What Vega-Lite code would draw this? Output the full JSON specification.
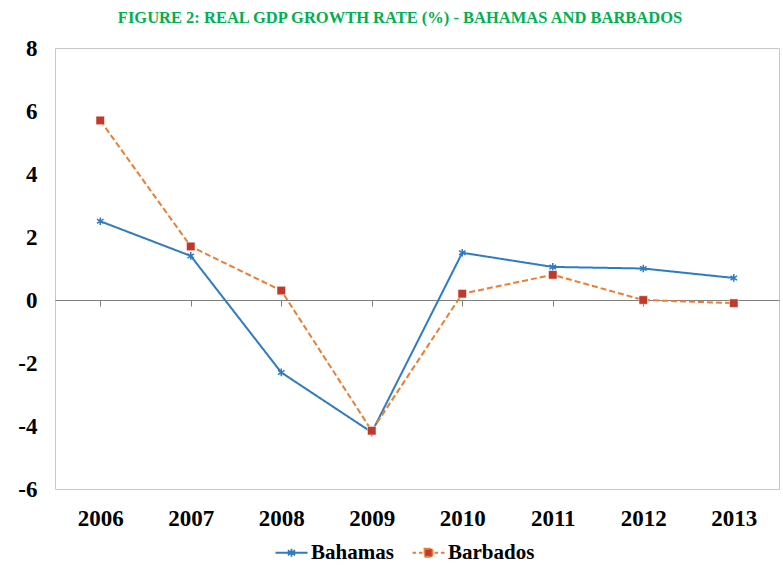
{
  "$schema": "https://vega.github.io/schema/vega-lite/v6.json",
  "width": 724,
  "height": 441,
  "autosize": "none",
  "padding": {"left": 55, "top": 48, "right": 4, "bottom": 86},
  "background": "white",
  "config": {
    "view": {"stroke": "#c8c8c8", "strokeWidth": 1},
    "font": "Liberation Serif"
  },
  "title": {
    "text": "FIGURE 2:  REAL GDP GROWTH RATE (%) - BAHAMAS AND BARBADOS",
    "color": "#00B050",
    "font": "Liberation Serif",
    "fontSize": 16.5,
    "fontWeight": "bold",
    "anchor": "middle",
    "dx": -17,
    "offset": 11
  },
  "data": {
    "values": [
      {"year": "2006", "series": "Bahamas", "value": 2.5},
      {"year": "2007", "series": "Bahamas", "value": 1.4},
      {"year": "2008", "series": "Bahamas", "value": -2.3},
      {"year": "2009", "series": "Bahamas", "value": -4.2},
      {"year": "2010", "series": "Bahamas", "value": 1.5},
      {"year": "2011", "series": "Bahamas", "value": 1.05},
      {"year": "2012", "series": "Bahamas", "value": 1.0},
      {"year": "2013", "series": "Bahamas", "value": 0.7},
      {"year": "2006", "series": "Barbados", "value": 5.7},
      {"year": "2007", "series": "Barbados", "value": 1.7},
      {"year": "2008", "series": "Barbados", "value": 0.3},
      {"year": "2009", "series": "Barbados", "value": -4.15},
      {"year": "2010", "series": "Barbados", "value": 0.2},
      {"year": "2011", "series": "Barbados", "value": 0.8},
      {"year": "2012", "series": "Barbados", "value": 0.0},
      {"year": "2013", "series": "Barbados", "value": -0.1}
    ]
  },
  "resolve": {"axis": {"x": "independent"}},
  "layer": [
    {
      "mark": {"type": "point", "opacity": 0},
      "encoding": {
        "x": {
          "field": "year", "type": "nominal",
          "axis": {
            "orient": "bottom", "offset": -189, "bandPosition": 1,
            "labels": false, "ticks": true, "tickSize": 6, "tickColor": "#7f7f7f",
            "domain": true, "domainColor": "#7f7f7f", "title": null, "grid": false
          }
        },
        "y": {"field": "value", "type": "quantitative"}
      }
    },
    {
      "mark": {"type": "line", "strokeWidth": 2},
      "encoding": {
        "x": {
          "field": "year", "type": "nominal",
          "scale": {"paddingInner": 0, "paddingOuter": 0.5},
          "axis": {
            "orient": "bottom", "labelAngle": 0, "labelFontSize": 23, "labelFontWeight": "bold",
            "labelColor": "#000", "labelPadding": 18, "labelFont": "Liberation Serif",
            "ticks": false, "domain": false, "title": null, "grid": false
          }
        },
        "y": {
          "field": "value", "type": "quantitative",
          "scale": {"domain": [-6, 8], "nice": false, "zero": false},
          "axis": {
            "values": [-6, -4, -2, 0, 2, 4, 6, 8],
            "labelExpr": "'' + datum.value",
            "labelFontSize": 23, "labelFontWeight": "bold", "labelColor": "#000",
            "labelFont": "Liberation Serif", "labelPadding": 18,
            "ticks": false, "domain": false, "grid": false, "title": null
          }
        },
        "color": {
          "field": "series", "type": "nominal",
          "scale": {"domain": ["Bahamas", "Barbados"], "range": ["#2E7BC4", "#ED7D31"]},
          "legend": {
            "orient": "none", "legendX": 226, "legendY": 494, "direction": "horizontal", "title": null,
            "labelFont": "Liberation Serif", "labelFontSize": 21, "labelFontWeight": "bold",
            "labelColor": "#000", "symbolSize": 256, "symbolStrokeWidth": 2,
            "columnPadding": 14, "labelOffset": 9,
            "encode": {
              "symbols": {
                "update": {
                  "shape": {"signal": "datum.label === 'Bahamas' ? 'M-2,0H2M0,-0.5V0.5M-0.45,-0.3L0.45,0.3M-0.45,0.3L0.45,-0.3' : 'M-2,0H-1.55M-1.2,0H-0.75M0.75,0H1.2M1.55,0H2M-0.5,-0.5H0.5V0.5H-0.5Z'"},
                  "fill": {"signal": "datum.label === 'Bahamas' ? 'transparent' : '#C0392B'"},
                  "strokeDash": {"value": [1, 0]},
                  "strokeWidth": {"value": 1.8}
                }
              }
            }
          }
        },
        "strokeDash": {
          "field": "series", "type": "nominal",
          "scale": {"domain": ["Bahamas", "Barbados"], "range": [[1, 0], [6, 3]]},
          "legend": null
        }
      }
    },
    {
      "transform": [{"filter": "datum.series === 'Bahamas'"}],
      "mark": {
        "type": "point",
        "shape": "M0,-1V1M-0.85,-0.55L0.85,0.55M-0.85,0.55L0.85,-0.55",
        "filled": false, "stroke": "#2E7BC4", "strokeWidth": 1.5, "size": 60, "opacity": 1
      },
      "encoding": {
        "x": {"field": "year", "type": "nominal", "axis": null},
        "y": {"field": "value", "type": "quantitative"}
      }
    },
    {
      "transform": [{"filter": "datum.series === 'Barbados'"}],
      "mark": {
        "type": "square", "filled": true, "color": "#C0392B", "size": 72, "opacity": 1,
        "stroke": "#ffffff", "strokeWidth": 0.5
      },
      "encoding": {
        "x": {"field": "year", "type": "nominal", "axis": null},
        "y": {"field": "value", "type": "quantitative"}
      }
    }
  ]
}
